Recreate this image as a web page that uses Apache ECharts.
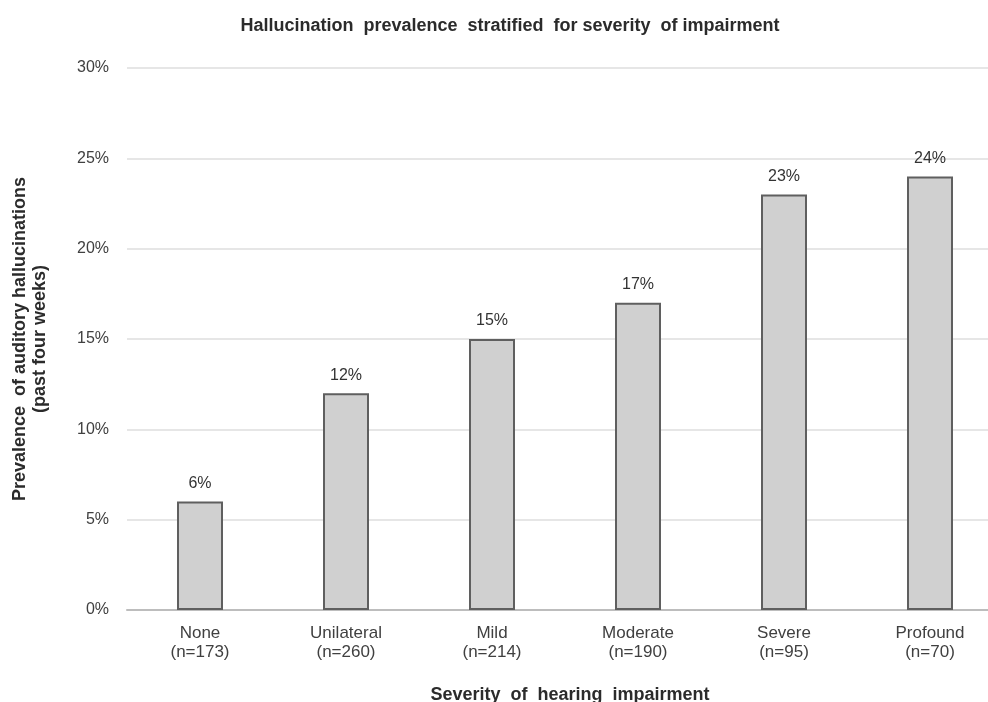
<!DOCTYPE html>
<html>
<head>
<meta charset="utf-8">
<script src="https://cdn.jsdelivr.net/npm/echarts@6/dist/echarts.min.js"></script>
<style>
html,body{margin:0;padding:0;background:#fff;}
#chart{width:988px;height:702px;}
</style>
</head>
<body>
<div id="chart"></div>
<script>
var categories = ['None', 'Unilateral', 'Mild', 'Moderate', 'Severe', 'Profound'];
var sampleSizes = ['(n=173)', '(n=260)', '(n=214)', '(n=190)', '(n=95)', '(n=70)'];
var prevalence = [6, 12, 15, 17, 23, 24];
var yTicks = [0, 5, 10, 15, 20, 25, 30];

var chart = echarts.init(document.getElementById('chart'), null, {renderer: 'canvas'});
var font = 'Liberation Sans, Arial, sans-serif';
chart.setOption({
  animation: false,
  backgroundColor: '#ffffff',
  title: [{
    text: 'Hallucination  prevalence  stratified  for severity  of impairment',
    left: 505, top: 12, textAlign: 'center',
    textStyle: {fontFamily: font, fontSize: 18, fontWeight: 'bold', color: '#2b2b2b'}
  }, {
    text: 'Severity  of  hearing  impairment',
    left: 565, top: 681, textAlign: 'center',
    textStyle: {fontFamily: font, fontSize: 18, fontWeight: 'bold', color: '#2b2b2b'}
  }],
  grid: {left: 127, right: -15, top: 68, bottom: 92, containLabel: false, outerBoundsMode: 'none'},
  xAxis: {
    type: 'category',
    data: categories.map(function (c, i) { return c + '\n' + sampleSizes[i]; }),
    axisLine: {show: true, lineStyle: {color: '#bdbdbd', width: 2}},
    axisTick: {show: false},
    axisLabel: {fontFamily: font, fontSize: 17, color: '#404040', lineHeight: 19, margin: 14, interval: 0}
  },
  yAxis: {
    type: 'value',
    min: yTicks[0], max: yTicks[yTicks.length - 1], interval: 5,
    name: 'Prevalence  of auditory hallucinations\n(past four weeks)',
    nameLocation: 'middle', nameGap: 77, nameRotate: 90,
    nameTextStyle: {fontFamily: font, fontSize: 18, fontWeight: 'bold', color: '#2b2b2b', lineHeight: 20},
    axisLine: {show: false},
    axisTick: {show: false},
    axisLabel: {fontFamily: font, fontSize: 16, color: '#404040', margin: 18,
      formatter: function (v) { return v + '%'; }},
    splitLine: {lineStyle: {color: '#e6e6e6', width: 2}}
  },
  series: [{
    type: 'bar',
    data: prevalence,
    barWidth: 46,
    itemStyle: {color: '#d0d0d0', borderColor: '#5f5f5f', borderWidth: 2},
    label: {show: true, position: 'top', distance: 10, fontFamily: font, fontSize: 16, color: '#333333',
      formatter: function (p) { return p.value + '%'; }}
  }]
});
</script>
</body>
</html>
